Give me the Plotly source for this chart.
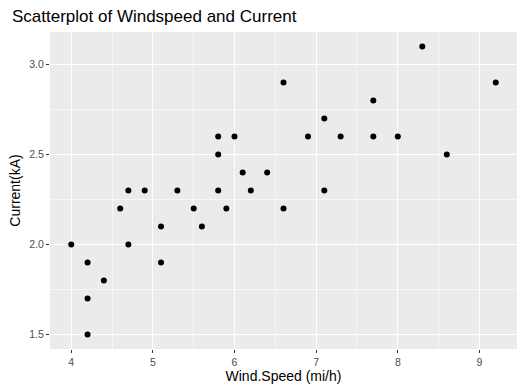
import plotly.graph_objects as go

wind_speed = [4.0, 4.2, 4.2, 4.2, 4.4, 4.6, 4.7, 4.7, 4.9, 5.1, 5.1, 5.3, 5.5, 5.6,
              5.8, 5.8, 5.8, 5.9, 6.0, 6.1, 6.2, 6.4, 6.6, 6.6, 6.9, 7.1, 7.1, 7.3,
              7.7, 7.7, 8.0, 8.3, 8.6, 9.2]
current = [2.0, 1.9, 1.7, 1.5, 1.8, 2.2, 2.3, 2.0, 2.3, 2.1, 1.9, 2.3, 2.2, 2.1,
           2.6, 2.5, 2.3, 2.2, 2.6, 2.4, 2.3, 2.4, 2.9, 2.2, 2.6, 2.7, 2.3, 2.6,
           2.8, 2.6, 2.6, 3.1, 2.5, 2.9]

x_ticks = [4, 5, 6, 7, 8, 9]
y_ticks = [1.5, 2.0, 2.5, 3.0]
y_tick_labels = ["1.5", "2.0", "2.5", "3.0"]

fig = go.Figure()
fig.add_trace(go.Scatter(
    x=wind_speed, y=current, mode="markers",
    marker=dict(color="black", size=6, line=dict(width=0)),
    showlegend=False,
))

font_family = "Liberation Sans, Arial, sans-serif"
axis_common = dict(
    showgrid=True, gridcolor="white", gridwidth=1.1,
    zeroline=False, showline=False,
    ticks="outside", ticklen=3, tickwidth=1, tickcolor="#333333",
    tickfont=dict(size=10.5, color="#4d4d4d", family=font_family),
)
fig.update_layout(
    width=518, height=385,
    margin=dict(l=50, r=1, t=32, b=36),
    paper_bgcolor="white", plot_bgcolor="#ebebeb",
    font=dict(family=font_family),
    title=dict(text="Scatterplot of Windspeed and Current", x=12/518, xanchor="left",
               y=1-16/385, yanchor="middle", font=dict(size=17, color="black")),
    xaxis=dict(**axis_common, range=[3.74, 9.46], tickvals=x_ticks,
               minor=dict(dtick=0.5, tick0=3.5, showgrid=True, gridcolor="#f7f7f7", gridwidth=0.6, ticks=""),
               title=dict(text="Wind.Speed (mi/h)", font=dict(size=14, color="black"), standoff=3)),
    yaxis=dict(**axis_common, range=[1.42, 3.18], tickvals=y_ticks, ticktext=y_tick_labels,
               minor=dict(dtick=0.25, tick0=1.25, showgrid=True, gridcolor="#f7f7f7", gridwidth=0.6, ticks=""),
               title=dict(text="Current(kA)", font=dict(size=14, color="black"), standoff=5)),
)
fig.write_html("out.html")
